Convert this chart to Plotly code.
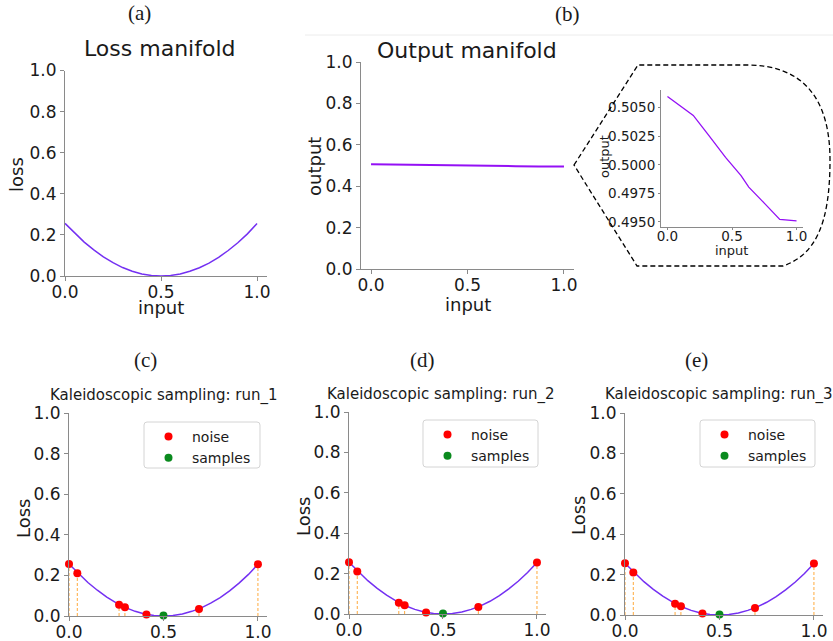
import plotly.graph_objects as go

W, H = 833, 641

# ---------------- data ----------------
grid_x = [0.0, 0.05, 0.1, 0.15, 0.2, 0.25, 0.3, 0.35, 0.4, 0.45, 0.5,
          0.55, 0.6, 0.65, 0.7, 0.75, 0.8, 0.85, 0.9, 0.95, 1.0]
loss_curve = [0.256, 0.208, 0.165, 0.127, 0.093, 0.065, 0.041, 0.023, 0.010, 0.0025, 0.0,
              0.0025, 0.010, 0.023, 0.040, 0.063, 0.091, 0.124, 0.162, 0.205, 0.255]

out_x = [0.0, 0.1, 0.2, 0.32, 0.45, 0.57, 0.63, 0.75, 0.87, 1.0]
out_y = [0.50598, 0.50515, 0.50432, 0.50257, 0.50065, 0.49905, 0.49805, 0.49665, 0.49522, 0.49510]

runs = ["run_1", "run_2", "run_3"]
panel_labels_bottom = ["(c)", "(d)", "(e)"]
noise_x = [0.0, 0.044, 0.265, 0.296, 0.41, 0.688, 1.0]
noise_loss = [0.256, 0.210, 0.056, 0.043, 0.008, 0.035, 0.255]
sample_x = [0.5]
sample_loss = [0.002]

x_ticks = [0.0, 0.5, 1.0]
y_ticks = [0.0, 0.2, 0.4, 0.6, 0.8, 1.0]
inset_y_ticks = [0.4950, 0.4975, 0.5000, 0.5025, 0.5050]

# ---------------- helpers ----------------
def px(x):
    return x / W

def py(y):
    return 1 - y / H

FONT = "DejaVu Sans"
SERIF = "Liberation Serif"
LOSS_COLOR = "#7430f2"
OUT_COLOR = "#9410f5"
AX_COLOR = "#8a8a8a"

fig = go.Figure()

# (a) loss manifold
fig.add_trace(go.Scatter(x=grid_x, y=loss_curve, mode="lines", line=dict(color=LOSS_COLOR, width=1.5),
                         xaxis="x", yaxis="y", showlegend=False, hoverinfo="skip"))
# (b) output manifold
fig.add_trace(go.Scatter(x=out_x, y=out_y, mode="lines", line=dict(color=OUT_COLOR, width=2),
                         xaxis="x2", yaxis="y2", showlegend=False, hoverinfo="skip"))
# inset
fig.add_trace(go.Scatter(x=out_x, y=out_y, mode="lines", line=dict(color=OUT_COLOR, width=1.3),
                         xaxis="x3", yaxis="y3", showlegend=False, hoverinfo="skip"))

legend_names = ["legend", "legend2", "legend3"]
for i, run in enumerate(runs):
    xa = "x%d" % (i + 4)
    ya = "y%d" % (i + 4)
    stem_x, stem_y = [], []
    for xv, lv in zip(noise_x + sample_x, noise_loss + sample_loss):
        stem_x += [xv, xv, None]
        stem_y += [0, lv, None]
    fig.add_trace(go.Scatter(x=grid_x, y=loss_curve, mode="lines", line=dict(color=LOSS_COLOR, width=1.5),
                             xaxis=xa, yaxis=ya, showlegend=False, hoverinfo="skip"))
    fig.add_trace(go.Scatter(x=stem_x, y=stem_y, mode="lines",
                             line=dict(color="rgba(255,160,40,0.9)", width=1, dash="3px,2px"),
                             xaxis=xa, yaxis=ya, showlegend=False, hoverinfo="skip"))
    fig.add_trace(go.Scatter(x=noise_x, y=noise_loss, mode="markers", name="noise",
                             marker=dict(color="#ff0000", size=8), cliponaxis=False,
                             xaxis=xa, yaxis=ya, legend=legend_names[i]))
    fig.add_trace(go.Scatter(x=sample_x, y=sample_loss, mode="markers", name="samples",
                             marker=dict(color="#0a8a1e", size=8), cliponaxis=False,
                             xaxis=xa, yaxis=ya, legend=legend_names[i]))

# ---------------- axes ----------------
def axis_style(size=17):
    return dict(showline=True, linecolor=AX_COLOR, linewidth=1, ticks="outside", ticklen=4,
                tickcolor=AX_COLOR, tickwidth=1, showgrid=False, zeroline=False, automargin=False,
                tickfont=dict(family=FONT, size=size, color="#1a1a1a"), fixedrange=True)

layout = dict(
    template="none",
    width=W, height=H, margin=dict(l=0, r=0, t=0, b=0, pad=0), autosize=False,
    paper_bgcolor="white", plot_bgcolor="white",
    font=dict(family=FONT, color="#1a1a1a"),
)

def xdef(x0, x1, rng, anchor, size=17, standoff=-3):
    d = axis_style(size)
    d.update(domain=[px(x0), px(x1)], range=rng, anchor=anchor, tickvals=x_ticks, tickformat=".1f",
             ticklabelstandoff=standoff)
    return d

def ydef(y_bottom, y_top, rng, anchor, tickvals, fmt, size=17):
    d = axis_style(size)
    d.update(domain=[py(y_bottom), py(y_top)], range=rng, anchor=anchor, tickvals=tickvals, tickformat=fmt)
    return d

layout["xaxis"] = xdef(65, 267, [0, 1.052], "y")
layout["yaxis"] = ydef(276, 70.5, [0, 1], "x", y_ticks, ".1f")
layout["xaxis2"] = xdef(361, 574, [-0.052, 1.052], "y2")
layout["yaxis2"] = ydef(269, 62, [0, 1], "x2", y_ticks, ".1f")
layout["xaxis3"] = xdef(661, 803, [-0.05, 1.05], "y3", size=13.5, standoff=-5)
layout["yaxis3"] = ydef(227, 90, [0.49456, 0.50654], "x3", inset_y_ticks, ".4f", size=13.5)
layout["xaxis3"]["ticklen"] = 2
layout["yaxis3"]["ticklen"] = 2

bottom_geo = [(69, 267, 616, 413), (349, 546, 614, 412), (625, 823, 615, 413)]
for i, (x0, x1, yb, yt) in enumerate(bottom_geo):
    layout["xaxis%d" % (i + 4)] = xdef(x0, x1, [0, 1.048], "y%d" % (i + 4))
    layout["yaxis%d" % (i + 4)] = ydef(yb, yt, [0, 1], "x%d" % (i + 4), y_ticks, ".1f")

# legend frames (pixel boxes) and legend anchor positions
legend_boxes = [(144, 422, 260, 468), (423, 420, 538, 467), (700, 420, 815, 467)]
for i, (bx0, by0, bx1, by1) in enumerate(legend_boxes):
    layout[legend_names[i]] = dict(
        x=px(bx0 + 1), y=py(by0 - 1), xanchor="left", yanchor="top",
        bgcolor="rgba(0,0,0,0)", borderwidth=0,
        font=dict(family=FONT, size=14, color="#1a1a1a"), itemwidth=37,
        tracegroupgap=0,
    )

fig.update_layout(**layout)

# ---------------- texts ----------------
def text(t, x, y, size, family=FONT, angle=0):
    fig.add_annotation(text=t, x=px(x), y=py(y), xref="paper", yref="paper", showarrow=False,
                       xanchor="center", yanchor="middle", textangle=angle,
                       font=dict(family=family, size=size, color="#1a1a1a"))

text("(a)", 139, 13, 21, SERIF)
text("(b)", 567, 14, 21, SERIF)
text("Loss manifold", 160, 48, 22)
text("Output manifold", 467, 50, 22)
text("loss", 17, 175, 18, angle=-90)
text("input", 161, 307, 18)
text("output", 314, 167, 18, angle=-90)
text("input", 468, 304, 18)
text("output", 604, 157, 13, angle=-90)
text("input", 731, 251, 13)

for lab, xc in zip(panel_labels_bottom, [145, 422, 696]):
    text(lab, xc, 360, 21, SERIF)
for run, xc, yc in zip(runs, [164, 441, 719], [395, 394, 394]):
    text("Kaleidoscopic sampling: " + run, xc, yc, 15)
for xc, yc in zip([23, 303, 578], [519, 517, 516]):
    text("Loss", xc, yc, 18, angle=-90)

# faint separator line
fig.add_shape(type="line", xref="paper", yref="paper", x0=px(305), x1=px(833), y0=py(35), y1=py(35),
              line=dict(color="#ececec", width=1))

def path_str(cmds):
    out = []
    for c in cmds:
        if c[0] == "Z":
            out.append("Z")
        else:
            op, pts = c[0], c[1:]
            out.append(op + " " + " ".join("%.5f,%.5f" % (px(a), py(b)) for a, b in pts))
    return " ".join(out)

# rounded legend frames
r = 3
for (bx0, by0, bx1, by1) in legend_boxes:
    frame = [("M", (bx0 + r, by0)), ("L", (bx1 - r, by0)), ("Q", (bx1, by0), (bx1, by0 + r)),
             ("L", (bx1, by1 - r)), ("Q", (bx1, by1), (bx1 - r, by1)),
             ("L", (bx0 + r, by1)), ("Q", (bx0, by1), (bx0, by1 - r)),
             ("L", (bx0, by0 + r)), ("Q", (bx0, by0), (bx0 + r, by0)), ("Z",)]
    fig.add_shape(type="path", xref="paper", yref="paper", path=path_str(frame), layer="above",
                  fillcolor="rgba(255,255,255,0.85)", line=dict(color="#d4d4d4", width=1))

# dashed callout outline around inset
outline = [("M", (574, 165)), ("L", (638, 65)), ("L", (747, 65)),
           ("C", (800, 65), (830, 95), (830, 160)),
           ("C", (830, 225), (815, 255), (783, 266)),
           ("L", (637, 266)), ("Z",)]
fig.add_shape(type="path", xref="paper", yref="paper", path=path_str(outline),
              line=dict(color="black", width=1.3, dash="5px,3px"))

fig.write_html("out.html", config={"displayModeBar": False},
               post_script="document.body.style.margin='0';document.body.style.overflow='hidden';")
